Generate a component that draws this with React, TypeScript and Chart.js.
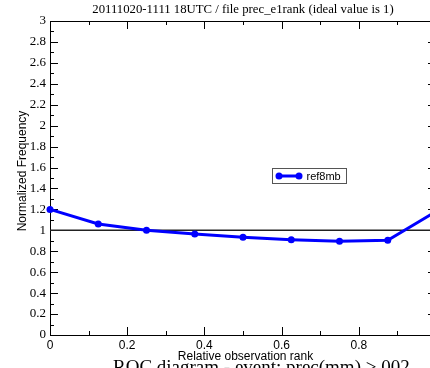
import React, { useEffect, useRef } from "react";
import { Chart, registerables } from "chart.js";

Chart.register(...registerables);

const ranks = [0, 0.125, 0.25, 0.375, 0.5, 0.625, 0.75, 0.875, 1];
const normFreq = [1.2, 1.06, 1.0, 0.965, 0.935, 0.91, 0.895, 0.905, 1.18];
const seriesName = "ref8mb";
const idealValue = 1;
const titleText = "20111020-1111 18UTC / file prec_e1rank (ideal value is 1)";
const footerText = "ROC diagram - event: prec(mm) > 002";
const xTitle = "Relative observation rank";
const yTitle = "Normalized Frequency";

const SERIF = "'Liberation Serif', 'Times New Roman', serif";
const SANS = "'Liberation Sans', Arial, sans-serif";

const framePlugin = {
  id: "framePlugin",
  beforeDatasetsDraw(chart: any) {
    const { ctx, chartArea } = chart;
    const xs = chart.scales.x;
    const ys = chart.scales.y;
    const L = chartArea.left, R = chartArea.right, T = chartArea.top, B = chartArea.bottom;
    ctx.save();
    ctx.strokeStyle = "#000";
    ctx.lineWidth = 1;
    ctx.beginPath();
    ctx.rect(Math.round(L) + 0.5, Math.round(T) + 0.5, Math.round(R - L) - 1, Math.round(B - T));
    ctx.stroke();
    ctx.beginPath();
    for (let i = 0; i <= 30; i++) {
      const v = i / 10;
      const y = Math.round(ys.getPixelForValue(v)) + 0.5;
      const len = i % 2 === 0 ? 8 : 4;
      ctx.moveTo(L, y);
      ctx.lineTo(L + len, y);
      ctx.moveTo(R, y);
      ctx.lineTo(R - len, y);
    }
    for (let i = 0; i <= 10; i++) {
      const v = i / 10;
      const x = Math.round(xs.getPixelForValue(v)) + 0.5;
      const len = i % 2 === 0 ? 8 : 4;
      ctx.moveTo(x, B);
      ctx.lineTo(x, B - len);
      ctx.moveTo(x, T);
      ctx.lineTo(x, T + len);
    }
    ctx.stroke();
    ctx.restore();
  },
  afterDraw(chart: any) {
    const { ctx, chartArea } = chart;
    const cx = (chartArea.left + chartArea.right) / 2;
    ctx.save();
    ctx.fillStyle = "#000";
    // top title
    ctx.font = `12.75px ${SERIF}`;
    ctx.textAlign = "center";
    ctx.textBaseline = "alphabetic";
    ctx.fillText(titleText, cx, 12.5);
    // x title
    ctx.font = `12px ${SANS}`;
    ctx.fillText(xTitle, cx + 2.5, 360);
    // footer (cut off)
    ctx.font = `19px ${SERIF}`;
    ctx.textAlign = "left";
    ctx.fillText(footerText, 113, 373);
    // y title
    ctx.save();
    ctx.translate(25.5, 171);
    ctx.rotate(-Math.PI / 2);
    ctx.font = `12px ${SANS}`;
    ctx.textAlign = "center";
    ctx.fillText(yTitle, 0, 0);
    ctx.restore();
    // legend
    const bx = 272.5, by = 168.5, bw = 74, bh = 15;
    ctx.fillStyle = "#fff";
    ctx.fillRect(bx, by, bw, bh);
    ctx.strokeStyle = "#555";
    ctx.lineWidth = 1;
    ctx.strokeRect(bx, by, bw, bh);
    const ly = by + bh / 2;
    ctx.strokeStyle = "#0000ff";
    ctx.lineWidth = 3;
    ctx.beginPath();
    ctx.moveTo(279, ly);
    ctx.lineTo(299, ly);
    ctx.stroke();
    ctx.fillStyle = "#0000ff";
    for (const px of [279, 299]) {
      ctx.beginPath();
      ctx.arc(px, ly, 3.5, 0, Math.PI * 2);
      ctx.fill();
    }
    ctx.fillStyle = "#000";
    ctx.font = `11px ${SANS}`;
    ctx.textAlign = "left";
    ctx.textBaseline = "middle";
    ctx.fillText(seriesName, 306.5, ly + 0.5);
    ctx.restore();
  },
};

export default function App() {
  const ref = useRef<HTMLCanvasElement | null>(null);
  useEffect(() => {
    if (!ref.current) return;
    const chart = new Chart(ref.current, {
      type: "line",
      data: {
        datasets: [
          {
            label: seriesName,
            data: ranks.map((x, i) => ({ x, y: normFreq[i] })),
            borderColor: "#0000ff",
            backgroundColor: "#0000ff",
            borderWidth: 3,
            pointRadius: 3.5,
            pointBorderWidth: 0,
            pointBackgroundColor: "#0000ff",
            tension: 0,
            clip: false as any,
          },
          {
            label: "ideal",
            data: [
              { x: 0, y: idealValue },
              { x: 1, y: idealValue },
            ],
            borderColor: "#222",
            borderWidth: 1.5,
            pointRadius: 0,
          },
        ],
      },
      options: {
        animation: false,
        responsive: false,
        devicePixelRatio: 1,
        layout: { padding: { top: 21, left: 0, right: 0, bottom: 0 } },
        plugins: {
          legend: { display: false },
          title: { display: false },
          tooltip: { enabled: false },
        },
        scales: {
          x: {
            type: "linear",
            min: 0,
            max: 1,
            grid: { display: false, drawTicks: false },
            border: { display: false },
            afterFit: (s: any) => {
              s.height = 33;
              s.paddingLeft = 0;
              s.paddingRight = 0;
            },
            ticks: {
              stepSize: 0.2,
              autoSkip: false,
              maxRotation: 0,
              padding: 3,
              color: "#000",
              font: { family: SANS, size: 12 },
              callback: (v: any) => (Number(v) >= 0.99 ? "" : String(Number(Number(v).toFixed(1)))),
            },
          },
          y: {
            type: "linear",
            min: 0,
            max: 3,
            grid: { display: false, drawTicks: false },
            border: { display: false },
            afterFit: (s: any) => {
              s.width = 50;
              s.paddingTop = 0;
              s.paddingBottom = 0;
            },
            ticks: {
              stepSize: 0.2,
              autoSkip: false,
              padding: 4,
              color: "#000",
              font: { family: SERIF, size: 13 },
              callback: (v: any) => String(Number(Number(v).toFixed(1))),
            },
          },
        },
      },
      plugins: [framePlugin],
    });
    return () => chart.destroy();
  }, []);
  return (
    <div
      style={{
        position: "fixed",
        left: 0,
        top: 0,
        width: 430,
        height: 368,
        overflow: "hidden",
        background: "#fff",
      }}
    >
      <canvas
        ref={ref}
        width={440}
        height={368}
        style={{ position: "absolute", left: 0, top: 0, width: 440, height: 368 }}
      />
    </div>
  );
}
